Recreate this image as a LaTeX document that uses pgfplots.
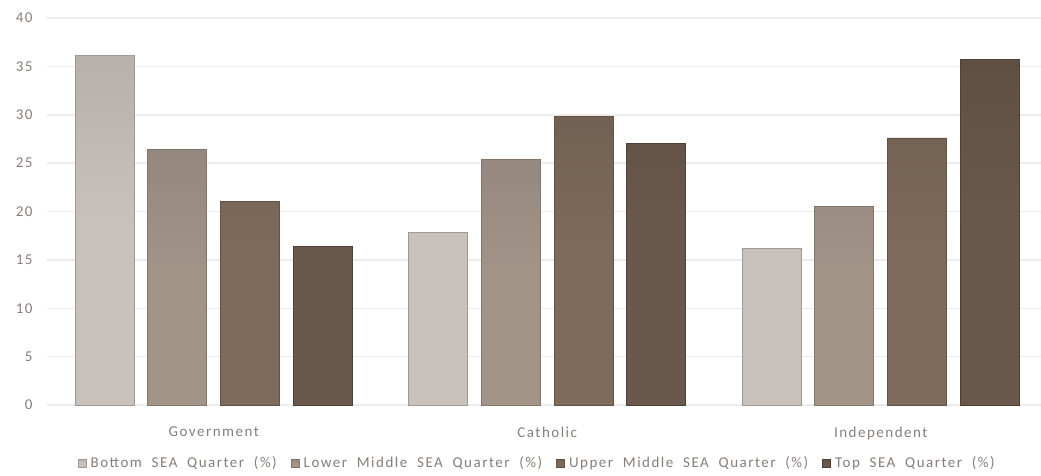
\documentclass[border=0pt]{standalone}
\usepackage{pgfplots}
\pgfplotsset{compat=1.18}
\usepackage{fontspec}
\setmainfont{Carlito}[LetterSpace=10, WordSpace=2]
\definecolor{c1}{RGB}{201,193,188}
\definecolor{c1t}{RGB}{182,177,173}
\definecolor{c1d}{RGB}{160,154,150}
\definecolor{c2}{RGB}{163,148,136}
\definecolor{c2t}{RGB}{148,135,125}
\definecolor{c2d}{RGB}{130,118,108}
\definecolor{c3}{RGB}{127,107,91}
\definecolor{c3t}{RGB}{114,97,82}
\definecolor{c3d}{RGB}{98,82,68}
\definecolor{c4}{RGB}{105,88,75}
\definecolor{c4t}{RGB}{96,80,67}
\definecolor{c4d}{RGB}{78,64,52}
\definecolor{txt}{RGB}{135,126,120}
\definecolor{gridc}{RGB}{236,236,236}
\begin{document}
\begin{tikzpicture}
\path[use as bounding box] (-47pt,-70pt) rectangle (994pt,405pt);
\begin{axis}[
  scale only axis,
  width=1000.5pt, height=387pt,
  xmin=-0.5, xmax=2.5,
  ymin=0, ymax=40,
  ytick={0,5,...,40},
  xtick={0,1,2},
  xticklabels={Government,Catholic,Independent},
  ybar, bar width=0.177,
  axis line style={draw=none},
  tick style={draw=none},
  ymajorgrids,
  grid style={gridc, line width=1.5pt},
  /pgf/number format/assume math mode=true,
  ticklabel style={font=\fontsize{15}{18}\selectfont, text=txt},
  yticklabel style={xshift=-11pt},
  xticklabel style={yshift=-14pt},
  legend style={at={(0.49,-0.15)}, anchor=center, draw=none,
    font=\fontsize{15}{18}\selectfont, text=txt,
    legend columns=4, /tikz/every even column/.append style={column sep=12pt},
    /tikz/every odd column/.append style={column sep=2pt}},
  legend image code/.code={\draw[#1] (0pt,-4pt) rectangle (8pt,4pt);},
]
\addplot[bar shift=-0.327, draw=c1d, line width=0.9pt, top color=c1t, bottom color=c1, middle color=c1] coordinates {(0,36.1) (1,17.8) (2,16.2)};
\addplot[bar shift=-0.109, draw=c2d, line width=0.9pt, top color=c2t, bottom color=c2, middle color=c2] coordinates {(0,26.4) (1,25.4) (2,20.5)};
\addplot[bar shift=0.109, draw=c3d, line width=0.9pt, top color=c3t, bottom color=c3, middle color=c3] coordinates {(0,21.0) (1,29.8) (2,27.6)};
\addplot[bar shift=0.327, draw=c4d, line width=0.9pt, top color=c4t, bottom color=c4, middle color=c4] coordinates {(0,16.4) (1,27.0) (2,35.7)};
\legend{Bottom SEA Quarter (\%), Lower Middle SEA Quarter (\%), Upper Middle SEA Quarter (\%), Top SEA Quarter (\%)}
\end{axis}
\end{tikzpicture}
\end{document}
